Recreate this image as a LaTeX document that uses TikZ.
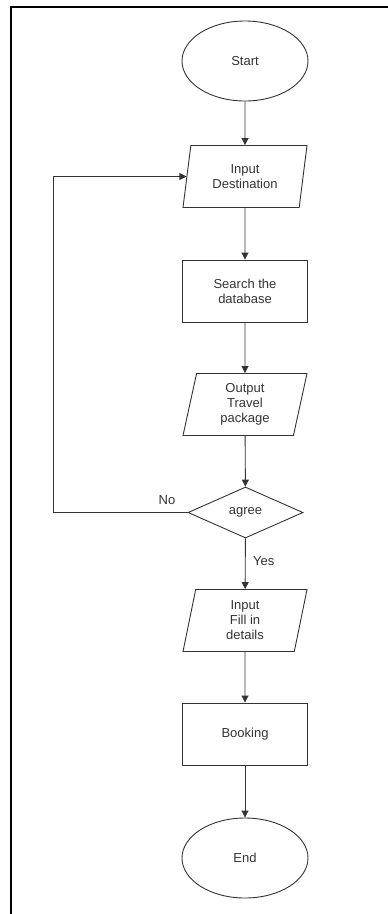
\documentclass[tikz,border=0pt]{standalone}
\usepackage{fontspec}
\setmainfont{Liberation Sans}
\usetikzlibrary{shapes.geometric, arrows.meta}

\begin{document}
\begin{tikzpicture}[x=1pt, y=-1pt, line width=0.9pt,
    every node/.style={font=\fontsize{13}{15}\selectfont, text=black!80, align=center},
    terminal/.style={draw=black!80, ellipse, minimum width=126pt, minimum height=80pt, inner sep=0pt},
    process/.style={draw=black!80, rectangle, minimum width=125pt, minimum height=62pt, inner sep=0pt},
    io/.style={draw=black!80, trapezium, trapezium left angle=72, trapezium right angle=108,
        trapezium stretches body, minimum width=124pt, minimum height=62pt, inner sep=0pt},
    decision/.style={draw=black!80, diamond, minimum width=115pt, minimum height=51pt, inner sep=0pt},
    flow/.style={draw=black!80, -{Triangle[width=7pt, length=7pt]}}]

    \useasboundingbox (0,0) rectangle (388,914);

    % Frame
    \draw[line width=2pt] (11,914) -- (11,7) -- (388,7);

    % Flow chart nodes
    \node[terminal] (start) at (245, 61) {Start};
    \node[io] (dest) at (245, 176.5) {Input\\Destination};
    \node[process] (search) at (245, 291) {Search the\\database};
    \node[io] (travel) at (245, 404.5) {Output\\Travel\\package};
    \node[decision] (agree) at (245.5, 512.5) {agree};
    \node[io] (details) at (245, 620.5) {Input\\Fill in\\details};
    \node[process] (booking) at (245, 734) {Booking};
    \node[terminal] (end) at (245, 858) {End};

    % Connectors
    \draw[flow] (start) -- (dest);
    \draw[flow] (dest) -- (search);
    \draw[flow] (search) -- (travel);
    \draw[flow] (travel) -- (agree);
    \draw[flow] (agree) -- (details) node[pos=0.45, right=4pt] (yes) {Yes};
    \draw[flow] (details) -- (booking);
    \draw[flow] (booking) -- (end);

    % Back to the input
    \coordinate (loop) at (53, 512.5);
    \draw[flow] (agree.west) -- (loop) |- (dest.west);
    \node (no) at (167, 500) {No};

\end{tikzpicture}
\end{document}
